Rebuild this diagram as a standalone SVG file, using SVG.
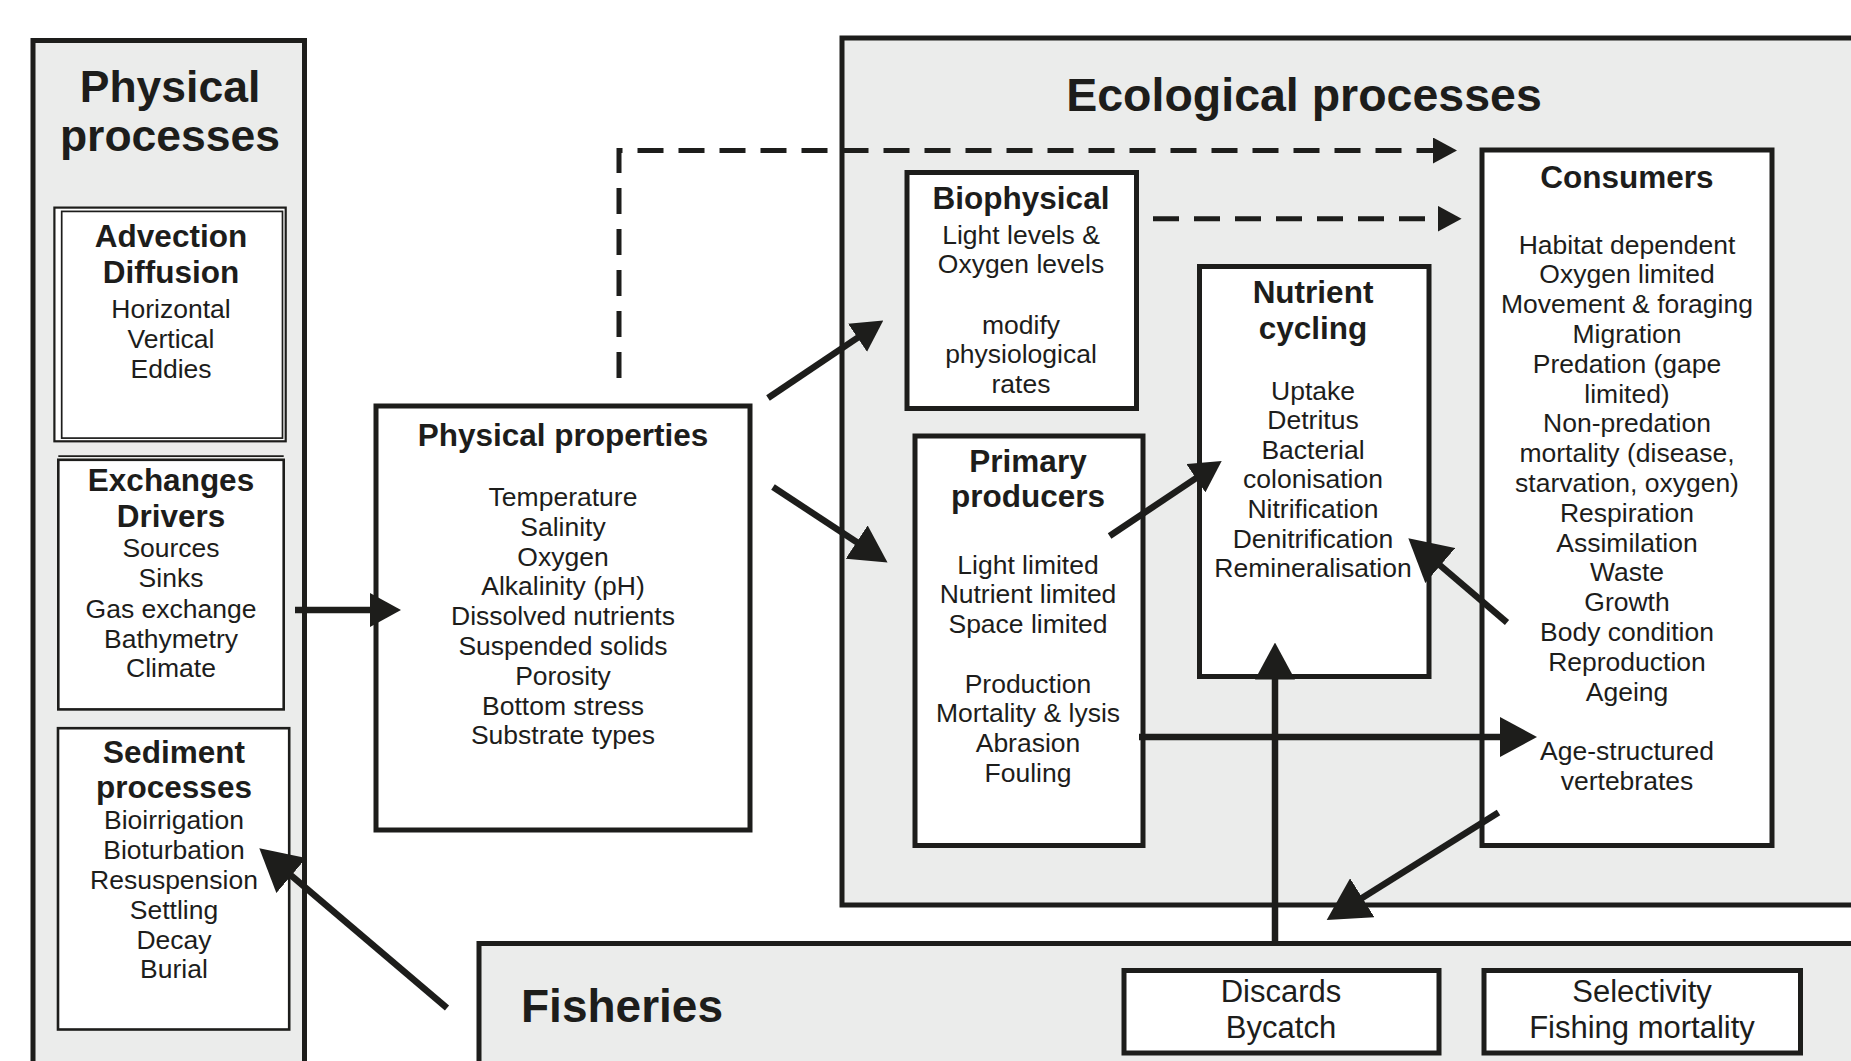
<svg xmlns="http://www.w3.org/2000/svg" width="1851" height="1061" viewBox="0 0 1851 1061">
<style>
.panel{fill:#ebeceb;stroke:#1d1d1b;stroke-width:5}
.box{fill:#fff;stroke:#1d1d1b;stroke-width:5}
.thin{fill:#fff;stroke:#1d1d1b;stroke-width:2.6}
.hair{fill:none;stroke:#1d1d1b;stroke-width:1.7}
text{font-family:"Liberation Sans",Arial,Helvetica,sans-serif;fill:#1d1d1b;text-anchor:middle}
.h{font-weight:bold;font-size:31.5px}
.t{font-size:26.5px}
.f{font-size:31px}
.big{font-weight:bold;font-size:46px}
.arr{fill:none;stroke:#1d1d1b;stroke-width:6.5}
.dash{fill:none;stroke:#1d1d1b;stroke-width:5;stroke-dasharray:26 15}
.head{fill:#1d1d1b;stroke:none}
</style>
<defs>
<marker id="ah-s" markerUnits="userSpaceOnUse" viewBox="0 0 31 34" markerWidth="31" markerHeight="34" refX="15.5" refY="17" orient="auto"><path class="head" d="M0,0 L31,17 L0,34 z"/></marker>
<marker id="ah-m" markerUnits="userSpaceOnUse" viewBox="0 0 37 40" markerWidth="37" markerHeight="40" refX="18.5" refY="20" orient="auto"><path class="head" d="M0,0 L37,20 L0,40 z"/></marker>
<marker id="ah-l" markerUnits="userSpaceOnUse" viewBox="0 0 42 46" markerWidth="42" markerHeight="46" refX="21" refY="23" orient="auto"><path class="head" d="M0,0 L42,23 L0,46 z"/></marker>
<marker id="ah-d" markerUnits="userSpaceOnUse" viewBox="0 0 24 26" markerWidth="24" markerHeight="26" refX="12" refY="13" orient="auto"><path class="head" d="M0,0 L24,13 L0,26 z"/></marker>
</defs>
<rect width="1851" height="1061" fill="#fff"/>

<g id="physical-processes">
<rect class="panel" x="33" y="40.5" width="271.5" height="1040"/>
<text style="font-weight:bold;font-size:44.5px" x="170" y="102">Physical</text>
<text style="font-weight:bold;font-size:44.5px" x="170" y="151">processes</text>
</g>

<g id="advection-diffusion">
<rect class="thin" x="54.4" y="207.6" width="231.3" height="233.7" style="stroke-width:2.2"/>
<rect class="hair" x="61.7" y="211.4" width="220.8" height="226.7"/>
<text class="h" x="171" y="247">Advection</text>
<text class="h" x="171" y="283">Diffusion</text>
<text class="t" x="171" y="318">Horizontal</text>
<text class="t" x="171" y="348">Vertical</text>
<text class="t" x="171" y="378">Eddies</text>
</g>

<g id="exchanges-drivers">
<rect class="thin" x="58.3" y="459.8" width="225.4" height="249.6"/>
<line class="hair" x1="58.3" y1="456.2" x2="283.7" y2="456.2"/>
<text class="h" x="171" y="491">Exchanges</text>
<text class="h" x="171" y="527">Drivers</text>
<text class="t" x="171" y="557">Sources</text>
<text class="t" x="171" y="587">Sinks</text>
<text class="t" x="171" y="617.5">Gas exchange</text>
<text class="t" x="171" y="647.5">Bathymetry</text>
<text class="t" x="171" y="677">Climate</text>
</g>

<g id="sediment-processes">
<rect class="thin" x="58" y="728.2" width="231.2" height="301.3"/>
<text class="h" x="174" y="763">Sediment</text>
<text class="h" x="174" y="798">processes</text>
<text class="t" x="174" y="829">Bioirrigation</text>
<text class="t" x="174" y="859">Bioturbation</text>
<text class="t" x="174" y="889">Resuspension</text>
<text class="t" x="174" y="919">Settling</text>
<text class="t" x="174" y="948.5">Decay</text>
<text class="t" x="174" y="978">Burial</text>
</g>

<g id="physical-properties">
<rect class="box" x="376" y="406" width="374" height="424"/>
<text class="h" x="563" y="446">Physical properties</text>
<text class="t" x="563" y="506">Temperature</text>
<text class="t" x="563" y="535.8">Salinity</text>
<text class="t" x="563" y="565.6">Oxygen</text>
<text class="t" x="563" y="595.4">Alkalinity (pH)</text>
<text class="t" x="563" y="625.2">Dissolved nutrients</text>
<text class="t" x="563" y="655">Suspended solids</text>
<text class="t" x="563" y="684.8">Porosity</text>
<text class="t" x="563" y="714.6">Bottom stress</text>
<text class="t" x="563" y="744.4">Substrate types</text>
</g>

<g id="ecological-processes">
<rect class="panel" x="842" y="38" width="1030" height="867"/>
<text style="font-weight:bold;font-size:46.5px" x="1304" y="111">Ecological processes</text>
</g>

<g id="biophysical">
<rect class="box" x="907" y="172.5" width="229.5" height="236"/>
<text class="h" x="1021" y="209">Biophysical</text>
<text class="t" x="1021" y="243.5">Light levels &amp;</text>
<text class="t" x="1021" y="273">Oxygen levels</text>
<text class="t" x="1021" y="334">modify</text>
<text class="t" x="1021" y="363.3">physiological</text>
<text class="t" x="1021" y="392.6">rates</text>
</g>

<g id="primary-producers">
<rect class="box" x="915" y="436" width="228" height="409.5"/>
<text class="h" x="1028" y="472">Primary</text>
<text class="h" x="1028" y="507">producers</text>
<text class="t" x="1028" y="573.5">Light limited</text>
<text class="t" x="1028" y="603">Nutrient limited</text>
<text class="t" x="1028" y="632.5">Space limited</text>
<text class="t" x="1028" y="692.5">Production</text>
<text class="t" x="1028" y="722">Mortality &amp; lysis</text>
<text class="t" x="1028" y="752">Abrasion</text>
<text class="t" x="1028" y="781.5">Fouling</text>
</g>

<g id="nutrient-cycling">
<rect class="box" x="1199.5" y="266.5" width="229.5" height="410"/>
<text class="h" x="1313" y="303">Nutrient</text>
<text class="h" x="1313" y="338.5">cycling</text>
<text class="t" x="1313" y="399.5">Uptake</text>
<text class="t" x="1313" y="429">Detritus</text>
<text class="t" x="1313" y="458.5">Bacterial</text>
<text class="t" x="1313" y="488">colonisation</text>
<text class="t" x="1313" y="517.5">Nitrification</text>
<text class="t" x="1313" y="547.5">Denitrification</text>
<text class="t" x="1313" y="577">Remineralisation</text>
</g>

<g id="consumers">
<rect class="box" x="1482" y="150" width="290" height="695.5"/>
<text class="h" x="1627" y="188">Consumers</text>
<text class="t" x="1627" y="253.5">Habitat dependent</text>
<text class="t" x="1627" y="283.3">Oxygen limited</text>
<text class="t" x="1627" y="313.1">Movement &amp; foraging</text>
<text class="t" x="1627" y="342.9">Migration</text>
<text class="t" x="1627" y="372.7">Predation (gape</text>
<text class="t" x="1627" y="402.5">limited)</text>
<text class="t" x="1627" y="432.3">Non-predation</text>
<text class="t" x="1627" y="462.1">mortality (disease,</text>
<text class="t" x="1627" y="491.9">starvation, oxygen)</text>
<text class="t" x="1627" y="521.7">Respiration</text>
<text class="t" x="1627" y="551.5">Assimilation</text>
<text class="t" x="1627" y="581.3">Waste</text>
<text class="t" x="1627" y="611.1">Growth</text>
<text class="t" x="1627" y="640.9">Body condition</text>
<text class="t" x="1627" y="670.7">Reproduction</text>
<text class="t" x="1627" y="700.5">Ageing</text>
<text class="t" x="1627" y="760">Age-structured</text>
<text class="t" x="1627" y="789.8">vertebrates</text>
</g>

<g id="fisheries">
<rect class="panel" x="479" y="943.5" width="1400" height="140"/>
<text class="big" x="521" y="1022" style="text-anchor:start">Fisheries</text>
</g>

<g id="discards-bycatch">
<rect class="box" x="1124" y="970.5" width="315" height="82.5"/>
<text class="f" x="1281" y="1001.5">Discards</text>
<text class="f" x="1281" y="1037.5">Bycatch</text>
</g>

<g id="selectivity-fishing-mortality">
<rect class="box" x="1484" y="970.5" width="316.5" height="82.5"/>
<text class="f" x="1642" y="1001.5">Selectivity</text>
<text class="f" x="1642" y="1037.5">Fishing mortality</text>
</g>

<g id="connectors">
<line class="arr" x1="295" y1="610" x2="385.5" y2="610" marker-end="url(#ah-s)"/>
<line class="arr" x1="768" y1="398" x2="870.4" y2="329.1" marker-end="url(#ah-s)"/>
<line class="arr" x1="773" y1="487" x2="872.1" y2="552.3" marker-end="url(#ah-m)"/>
<line class="arr" x1="1109.6" y1="536" x2="1208.8" y2="469.6" marker-end="url(#ah-s)"/>
<line class="arr" x1="1507" y1="622.5" x2="1424.3" y2="551.9" marker-end="url(#ah-l)"/>
<line class="arr" x1="1139" y1="737" x2="1518.5" y2="737" marker-end="url(#ah-m)"/>
<line class="arr" x1="1275" y1="943" x2="1275" y2="661" marker-end="url(#ah-m)"/>
<line class="arr" x1="1498.5" y1="812.6" x2="1344.5" y2="908.9" marker-end="url(#ah-l)"/>
<line class="arr" x1="447" y1="1008" x2="275.3" y2="861.9" marker-end="url(#ah-l)"/>
<path class="dash" d="M619,378 V150.5 H1445" marker-end="url(#ah-d)"/>
<path class="dash" d="M1153,218.7 H1449.6" marker-end="url(#ah-d)"/>
</g>
</svg>
